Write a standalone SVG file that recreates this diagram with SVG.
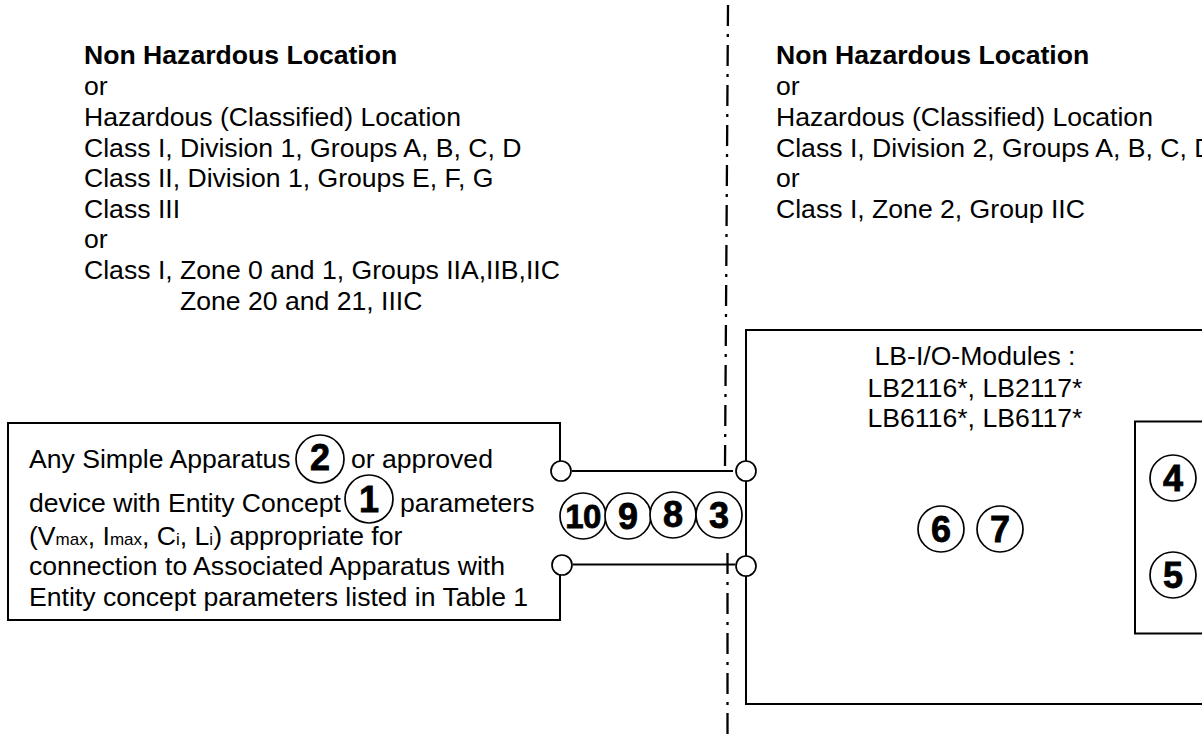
<svg xmlns="http://www.w3.org/2000/svg" width="1202" height="736" viewBox="0 0 1202 736">
<style>
text{font-family:"Liberation Sans",Arial,sans-serif;font-size:26.6px;fill:#000}
.b{font-weight:bold}
.n{font-weight:bold;font-size:36px;text-anchor:middle;stroke:#000;stroke-width:.8}
.s{font-size:17px}
.c{fill:#fff;stroke:#000;stroke-width:1.7}
.l{fill:none;stroke:#000;stroke-width:2}
.d{fill:none;stroke:#000;stroke-width:2.300;stroke-dasharray:21 8 3 8}
.m{text-anchor:middle}
</style>
<rect width="1202" height="736" fill="#fff"/>
<g id="boundary">
<path class="d" d="M728 5L725 466"/>
<path class="d" d="M727.500 553V736"/>
</g>
<g id="left-location">
<text class="b" x="84" y="64">Non Hazardous Location</text>
<text x="84" y="95">or</text>
<text x="84" y="126">Hazardous (Classified) Location</text>
<text x="84" y="157">Class I, Division 1, Groups A, B, C, D</text>
<text x="84" y="187">Class II, Division 1, Groups E, F, G</text>
<text x="84" y="218">Class III</text>
<text x="84" y="248">or</text>
<text x="84" y="279">Class I, Zone 0 and 1, Groups IIA,IIB,IIC</text>
<text x="180" y="310">Zone 20 and 21, IIIC</text>
</g>
<g id="right-location">
<text class="b" x="776" y="64">Non Hazardous Location</text>
<text x="776" y="95">or</text>
<text x="776" y="126">Hazardous (Classified) Location</text>
<text x="776" y="157">Class I, Division 2, Groups A, B, C, D</text>
<text x="776" y="187">or</text>
<text x="776" y="218">Class I, Zone 2, Group IIC</text>
</g>
<g id="connectors">
<path class="l" d="M572 471H733"/>
<path class="l" d="M573 564.500H735"/>
</g>
<g id="apparatus-box">
<path class="l" d="M560 470V423H8V620H560V565"/>
<text x="29" y="468">Any Simple Apparatus</text>
<text x="351" y="468">or approved</text>
<text x="29" y="512">device with Entity Concept</text>
<text x="400" y="512">parameters</text>
<text x="29" y="545">(V<tspan class="s">max</tspan>, I<tspan class="s">max</tspan>, C<tspan class="s">i</tspan>, L<tspan class="s">i</tspan>) appropriate for</text>
<text x="29" y="575">connection to Associated Apparatus with</text>
<text x="29" y="606">Entity concept parameters listed in Table 1</text>
<circle class="c" cx="320" cy="459" r="24"/><text class="n" x="320" y="470">2</text>
<circle class="c" cx="369" cy="499" r="24"/><text class="n" x="369" y="512">1</text>
</g>
<g id="module-box">
<path class="l" d="M746 470V330H1202"/>
<path class="l" d="M746 566V704H1202"/>
<path class="l" d="M746 480V556"/>
<text class="m" x="975" y="365">LB-I/O-Modules :</text>
<text class="m" x="975" y="396.500">LB2116*, LB2117*</text>
<text class="m" x="975" y="427">LB6116*, LB6117*</text>
<circle class="c" cx="941" cy="529" r="23"/><text class="n" x="941" y="542">6</text>
<circle class="c" cx="1000" cy="529" r="23"/><text class="n" x="1000" y="542">7</text>
</g>
<g id="inner-box">
<path class="l" d="M1202 421.500H1135V633.500H1202"/>
<circle class="c" cx="1173" cy="478" r="23"/><text class="n" x="1173" y="491">4</text>
<circle class="c" cx="1173" cy="575" r="23"/><text class="n" x="1173" y="588">5</text>
</g>
<g id="badges">
<circle class="c" cx="583" cy="516" r="23"/><text class="n" x="583" y="528" style="font-size:33px;letter-spacing:-.5px">10</text>
<circle class="c" cx="628" cy="516" r="23"/><text class="n" x="628" y="529">9</text>
<circle class="c" cx="673" cy="515" r="23"/><text class="n" x="673" y="527">8</text>
<circle class="c" cx="719" cy="515" r="23"/><text class="n" x="719" y="528">3</text>
</g>
<g id="terminals">
<circle class="c" cx="561" cy="471" r="10"/>
<circle class="c" cx="562" cy="565" r="10"/>
<circle class="c" cx="746" cy="471" r="10"/>
<circle class="c" cx="746" cy="566" r="10"/>
</g>
</svg>
